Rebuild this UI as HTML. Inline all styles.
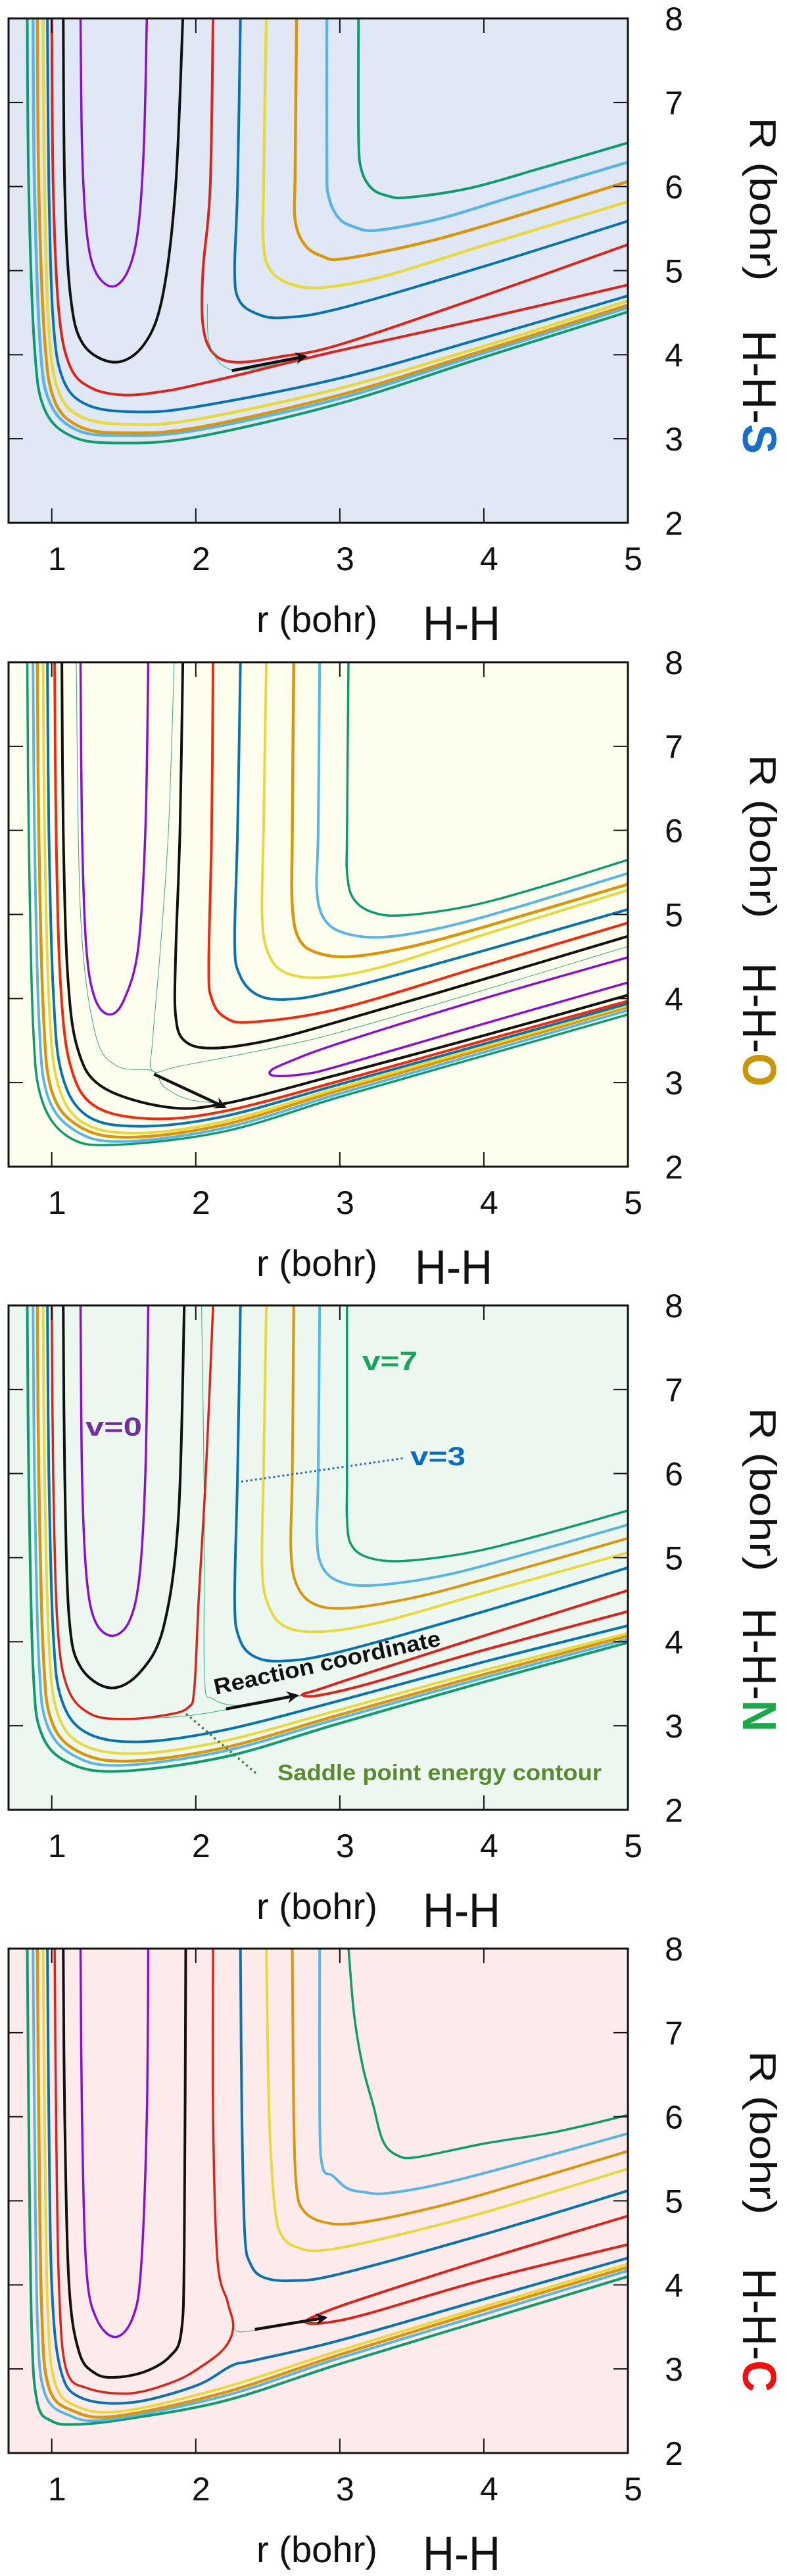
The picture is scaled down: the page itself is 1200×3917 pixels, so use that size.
<!DOCTYPE html>
<html><head><meta charset="utf-8"><style>
html,body{margin:0;padding:0;background:#fff;}
svg{display:block;font-family:"Liberation Sans",sans-serif;}
</style></head><body>
<svg id="fig" width="1200" height="3917" viewBox="0 0 1200 3917" xmlns="http://www.w3.org/2000/svg"></svg>
<script>
// ---------- DATA (r, R in bohr) ----------
const xTicks=[1,2,3,4,5];
const yTicks=[2,3,4,5,6,7,8];
const panelLabels=["S","O","N","C"];
// Panel 1 H-H-S
const p1_purple=[[1.20,8],[1.21,6.5],[1.24,5.5],[1.30,5.0],[1.42,4.81],[1.53,5.0],[1.60,5.5],[1.64,6.5],[1.66,8]];
const p1_black=[[1.08,8],[1.09,6],[1.13,4.7],[1.22,4.12],[1.44,3.91],[1.64,4.12],[1.77,4.7],[1.86,6],[1.91,8]];
const p1_redOuter=[[1.00,8],[1.01,6],[1.05,4.5],[1.13,3.85],[1.28,3.6],[1.51,3.52],[1.8,3.57],[2.05,3.66],[2.3,3.76],[3,4.05],[4,4.43],[5,4.83]];
const p1_redInner=[[2.12,8],[2.10,6],[2.05,5],[2.05,4.35],[2.12,4.02],[2.28,3.91],[2.6,3.98],[3,4.12],[4,4.7],[5,5.31]];
const p1_blueOuter=[[0.97,8],[0.98,6],[1.01,4.4],[1.08,3.7],[1.25,3.4],[1.58,3.32],[2,3.38],[3,3.72],[4,4.2],[5,4.70]];
const p1_blueInner=[[2.31,8],[2.29,6],[2.27,5],[2.30,4.65],[2.42,4.49],[2.6,4.44],[3,4.55],[4,5.05],[5,5.59]];
const p1_yellowOuter=[[0.94,8],[0.95,6],[0.98,4.3],[1.05,3.55],[1.22,3.25],[1.55,3.17],[2,3.23],[3,3.6],[4,4.1],[5,4.64]];
const p1_yellowInner=[[2.49,8],[2.47,6],[2.47,5.3],[2.52,5.0],[2.66,4.84],[2.88,4.80],[3.3,4.93],[4,5.3],[5,5.82]];
const p1_orangeOuter=[[0.90,8],[0.91,6],[0.95,4.2],[1.02,3.45],[1.2,3.14],[1.5,3.07],[2,3.13],[3,3.52],[4,4.05],[5,4.59]];
const p1_orangeInner=[[2.70,8],[2.69,6.2],[2.69,5.6],[2.76,5.3],[2.88,5.17],[3.02,5.14],[3.5,5.3],[4,5.53],[5,6.06]];
const p1_lbOuter=[[0.87,8],[0.88,6],[0.92,4.1],[0.99,3.42],[1.18,3.1],[1.5,3.04],[2,3.1],[3,3.48],[4,4.02],[5,4.56]];
const p1_lbInner=[[2.91,8],[2.91,6.3],[2.92,5.9],[2.99,5.63],[3.1,5.52],[3.26,5.48],[3.7,5.62],[4.2,5.88],[5,6.29]];
const p1_greenOuter=[[0.83,8],[0.84,6],[0.88,4.1],[0.95,3.35],[1.15,3.02],[1.48,2.95],[2,3.02],[3,3.42],[4,3.97],[5,4.51]];
const p1_greenInner=[[3.13,8],[3.13,6.6],[3.15,6.2],[3.22,5.98],[3.33,5.89],[3.47,5.87],[3.9,5.98],[4.4,6.22],[5,6.52]];
const p1_saddle=[[2.08,4.6],[2.1,4.1],[2.25,3.82],[2.6,3.9]];
const p1_arrow=[[2.25,3.81],[2.76,3.98]];
// Panel 2 H-H-O
const p2_purple=[[1.20,8],[1.21,6],[1.24,4.6],[1.30,4.0],[1.40,3.81],[1.50,3.98],[1.60,4.6],[1.65,6],[1.67,8]];
const p2_purpleLoop=[[5,4.49],[4,4.0],[3,3.47],[2.65,3.25],[2.52,3.14],[2.55,3.08],[2.75,3.1],[3,3.2],[4,3.7],[5,4.19]];
const p2_blackOuter=[[1.07,8],[1.08,6],[1.11,4.3],[1.18,3.4],[1.35,2.95],[1.79,2.71],[2.2,2.75],[3,3.1],[4,3.56],[5,4.04]];
const p2_blackInner=[[1.91,8],[1.89,6],[1.86,4.5],[1.86,3.8],[1.92,3.5],[2.11,3.41],[2.5,3.5],[3,3.73],[4,4.23],[5,4.74]];
const p2_redOuter=[[1.02,8],[1.03,6],[1.06,4.2],[1.13,3.2],[1.3,2.72],[1.69,2.57],[2.2,2.66],[3,3.02],[4,3.5],[5,3.97]];
const p2_redInner=[[2.12,8],[2.11,6],[2.09,4.4],[2.11,4.0],[2.2,3.78],[2.39,3.72],[3,3.88],[4,4.39],[5,4.90]];
const p2_blueOuter=[[0.97,8],[0.98,6],[1.01,4.1],[1.07,3.1],[1.25,2.6],[1.62,2.48],[2.2,2.6],[3,2.98],[4,3.46],[5,3.94]];
const p2_blueInner=[[2.31,8],[2.29,6],[2.27,4.7],[2.30,4.3],[2.42,4.05],[2.63,3.99],[3,4.1],[4,4.57],[5,5.06]];
const p2_yellowOuter=[[0.94,8],[0.95,6],[0.98,4.0],[1.04,3.0],[1.22,2.52],[1.6,2.40],[2.2,2.54],[3,2.94],[4,3.43],[5,3.92]];
const p2_yellowInner=[[2.49,8],[2.47,6],[2.46,5.0],[2.50,4.55],[2.62,4.31],[2.88,4.25],[3.3,4.38],[4,4.76],[5,5.29]];
const p2_orangeOuter=[[0.90,8],[0.91,6],[0.94,3.9],[1.0,2.9],[1.2,2.47],[1.55,2.35],[2.2,2.5],[3,2.91],[4,3.4],[5,3.90]];
const p2_orangeInner=[[2.68,8],[2.67,6],[2.67,5.1],[2.72,4.7],[2.85,4.54],[3.09,4.50],[3.5,4.62],[4,4.85],[5,5.36]];
const p2_lbOuter=[[0.87,8],[0.88,6],[0.91,3.8],[0.97,2.85],[1.17,2.42],[1.5,2.30],[2.2,2.46],[3,2.87],[4,3.36],[5,3.86]];
const p2_lbInner=[[2.86,8],[2.85,6],[2.84,5.3],[2.89,4.95],[3.03,4.78],[3.30,4.73],[3.7,4.84],[4.2,5.07],[5,5.49]];
const p2_greenOuter=[[0.83,8],[0.84,6],[0.87,3.7],[0.93,2.8],[1.12,2.35],[1.44,2.26],[2.2,2.42],[3,2.83],[4,3.32],[5,3.81]];
const p2_greenInner=[[3.06,8],[3.05,6],[3.05,5.5],[3.09,5.2],[3.22,5.03],[3.44,4.99],[3.9,5.1],[4.4,5.33],[5,5.65]];
const p2_saddleA=[[1.85,8],[1.81,6],[1.75,4.5],[1.70,3.5],[1.70,3.14],[1.9,3.2],[2.5,3.4],[3,3.6],[4,4.1],[5,4.62]];
const p2_saddleB=[[1.17,8],[1.2,5],[1.3,3.6],[1.45,3.2],[1.70,3.14],[1.78,2.95],[1.95,2.8],[2.2,2.75]];
const p2_arrow=[[1.71,3.10],[2.20,2.71]];
// Panel 3 H-H-N
const p3_purple=[[1.20,8],[1.21,6],[1.24,4.8],[1.30,4.25],[1.42,4.07],[1.54,4.25],[1.61,4.8],[1.65,6],[1.67,8]];
const p3_black=[[1.08,8],[1.09,6],[1.12,4.3],[1.2,3.7],[1.41,3.45],[1.62,3.65],[1.78,4.2],[1.88,5.5],[1.92,8]];
const p3_redU=[[1.00,8],[1.01,6],[1.04,4.2],[1.11,3.45],[1.27,3.14],[1.51,3.08],[1.8,3.13],[1.95,3.22],[1.99,3.45],[2.02,4.5],[2.07,6],[2.12,8]];
const p3_redLoop=[[5,4.61],[4,4.07],[3.2,3.63],[2.85,3.43],[2.74,3.37],[2.85,3.36],[3.2,3.5],[4,3.9],[5,4.36]];
const p3_blueOuter=[[0.97,8],[0.98,6],[1.01,4.1],[1.07,3.3],[1.25,2.91],[1.62,2.81],[2.2,2.95],[3,3.3],[4,3.76],[5,4.19]];
const p3_blueInner=[[2.31,8],[2.29,6],[2.27,4.5],[2.30,4.05],[2.40,3.83],[2.60,3.77],[3,3.88],[4,4.36],[5,4.88]];
const p3_yellowOuter=[[0.94,8],[0.95,6],[0.98,4.0],[1.04,3.15],[1.22,2.77],[1.6,2.67],[2.2,2.82],[3,3.19],[4,3.66],[5,4.10]];
const p3_yellowInner=[[2.49,8],[2.47,6],[2.46,4.9],[2.50,4.45],[2.62,4.18],[2.88,4.12],[3.3,4.24],[4,4.58],[5,5.06]];
const p3_orangeOuter=[[0.90,8],[0.91,6],[0.94,3.9],[1.0,3.05],[1.2,2.68],[1.55,2.58],[2.2,2.74],[3,3.13],[4,3.61],[5,4.07]];
const p3_orangeInner=[[2.68,8],[2.67,6],[2.66,5.1],[2.70,4.68],[2.82,4.45],[3.05,4.40],[3.5,4.52],[4,4.74],[5,5.23]];
const p3_lbOuter=[[0.87,8],[0.88,6],[0.91,3.8],[0.97,3.0],[1.17,2.63],[1.5,2.53],[2.2,2.7],[3,3.09],[4,3.57],[5,4.03]];
const p3_lbInner=[[2.86,8],[2.85,6],[2.84,5.3],[2.87,4.92],[2.99,4.72],[3.23,4.67],[3.7,4.78],[4.2,5.0],[5,5.39]];
const p3_greenOuter=[[0.83,8],[0.84,6],[0.87,3.7],[0.93,2.9],[1.13,2.55],[1.48,2.46],[2.2,2.63],[3,3.03],[4,3.52],[5,3.99]];
const p3_greenInner=[[3.05,8],[3.05,6],[3.05,5.45],[3.08,5.15],[3.2,5.0],[3.44,4.96],[3.9,5.06],[4.4,5.27],[5,5.56]];
const p3_saddle=[[2.04,8],[2.06,5.5],[2.06,3.6],[2.12,3.32],[2.35,3.24],[2.74,3.37]];
const p3_saddleB=[[1.5,3.07],[1.95,3.12],[2.3,3.22],[2.74,3.36]];
const p3_arrow=[[2.21,3.20],[2.70,3.36]];
// Panel 4 H-H-C
const p4_purple=[[1.20,8],[1.21,6],[1.24,4.2],[1.31,3.6],[1.44,3.38],[1.56,3.6],[1.62,4.2],[1.66,6],[1.67,8]];
const p4_black=[[1.08,8],[1.09,6],[1.12,4],[1.19,3.2],[1.3,2.95],[1.44,2.90],[1.65,2.97],[1.82,3.15],[1.9,3.45],[1.92,4.5],[1.93,8]];
const p4_redU=[[1.02,8],[1.03,6],[1.05,4],[1.1,3.0],[1.25,2.77],[1.55,2.71],[1.85,2.85],[2.04,3.03],[2.2,3.25],[2.26,3.5],[2.22,3.8],[2.15,4.3],[2.12,6],[2.12,8]];
const p4_redLoop=[[5,4.82],[4,4.3],[3.2,3.86],[2.9,3.68],[2.76,3.56],[2.9,3.55],[3.2,3.66],[4,4.06],[5,4.48]];
const p4_blueOuter=[[0.97,8],[0.98,6],[1.0,4],[1.06,3.0],[1.2,2.66],[1.55,2.60],[2.0,2.8],[2.25,3.04],[2.4,3.1],[3,3.34],[4,3.83],[5,4.32]];
const p4_blueInner=[[2.31,8],[2.32,6],[2.34,4.6],[2.38,4.25],[2.47,4.09],[2.67,4.05],[3,4.13],[4,4.6],[5,5.12]];
const p4_yellowOuter=[[0.94,8],[0.95,6],[0.97,3.8],[1.02,2.85],[1.18,2.55],[1.5,2.50],[2.2,2.78],[3,3.22],[4,3.74],[5,4.25]];
const p4_yellowInner=[[2.49,8],[2.51,6],[2.55,4.9],[2.60,4.58],[2.70,4.45],[2.88,4.41],[3.3,4.55],[4,4.86],[5,5.38]];
const p4_orangeOuter=[[0.90,8],[0.91,6],[0.93,3.7],[0.98,2.78],[1.15,2.5],[1.45,2.44],[2.2,2.72],[3,3.17],[4,3.7],[5,4.21]];
const p4_orangeInner=[[2.67,8],[2.68,6],[2.70,5.15],[2.75,4.88],[2.88,4.75],[3.09,4.73],[3.5,4.86],[4,5.08],[5,5.59]];
const p4_lbOuter=[[0.87,8],[0.88,6],[0.9,3.6],[0.95,2.72],[1.12,2.45],[1.4,2.40],[2.2,2.68],[3,3.13],[4,3.65],[5,4.17]];
const p4_lbInner=[[2.86,8],[2.86,6],[2.88,5.4],[2.95,5.3],[3.05,5.15],[3.18,5.1],[3.33,5.09],[3.7,5.2],[4.2,5.42],[5,5.80]];
const p4_greenOuter=[[0.83,8],[0.84,6],[0.86,3.5],[0.9,2.6],[1.0,2.38],[1.16,2.34],[1.5,2.4],[2.2,2.62],[3,3.06],[4,3.58],[5,4.10]];
const p4_greenInner=[[3.06,8],[3.10,7.2],[3.16,6.59],[3.23,6.15],[3.30,5.71],[3.40,5.54],[3.54,5.52],[4,5.68],[4.5,5.82],[5,6.02]];
const p4_saddle=[[2.26,3.5],[2.3,3.44],[2.45,3.47]];
const p4_arrow=[[2.41,3.47],[2.90,3.61]];

// ---------- LAYOUT ----------
const NS="http://www.w3.org/2000/svg";
const svg=document.getElementById('fig');
const L=13,Rt=955,H=767;
const tops=[28,1007,1985,2963];
const bgs=["#e1e8f5","#fefeee","#ecf7f0","#fdeaea"];
const labelCols=["#1a6fc4","#c8960a","#1aa84a","#ee1111"];
const rOff=[275,265,280,280], hOff=[568,551,554,580];
const C={purple:"#8a10d0",black:"#111111",red:"#d8261e",blue:"#0b72b0",yellow:"#e8d840",orange:"#d9960c",lb:"#5ab4e4",green:"#119a70",thin:"#3aa878"};
function xs(r){return L+(r-0.7)*(Rt-L)/4.3;}
function ysF(top){return R=>top+(8-R)*H/6;}
function el(tag,attrs,parent){const e=document.createElementNS(NS,tag);for(const k in attrs)e.setAttribute(k,attrs[k]);(parent||svg).appendChild(e);return e;}
function pathD(pts,ys){
  const p=pts.map(q=>[xs(q[0]),ys(q[1])]);
  let d="M"+p[0][0].toFixed(1)+","+p[0][1].toFixed(1);
  for(let i=0;i<p.length-1;i++){
    const p0=p[i-1]||p[i],p1=p[i],p2=p[i+1],p3=p[i+2]||p2;
    const c1=[p1[0]+(p2[0]-p0[0])/6,p1[1]+(p2[1]-p0[1])/6];
    const c2=[p2[0]-(p3[0]-p1[0])/6,p2[1]-(p3[1]-p1[1])/6];
    d+=" C"+c1[0].toFixed(1)+","+c1[1].toFixed(1)+" "+c2[0].toFixed(1)+","+c2[1].toFixed(1)+" "+p2[0].toFixed(1)+","+p2[1].toFixed(1);
  }
  return d;
}
const panels=[
 [[p1_greenOuter,C.green,4],[p1_greenInner,C.green,4],[p1_lbOuter,C.lb,4.5],[p1_lbInner,C.lb,4.5],[p1_orangeOuter,C.orange,4.5],[p1_orangeInner,C.orange,4.5],[p1_yellowOuter,C.yellow,4.5],[p1_yellowInner,C.yellow,4.5],[p1_blueOuter,C.blue,4],[p1_blueInner,C.blue,4],[p1_redOuter,C.red,4],[p1_redInner,C.red,4],[p1_black,C.black,4],[p1_purple,C.purple,3.5],[p1_saddle,C.thin,1]],
 [[p2_saddleA,C.thin,1],[p2_saddleB,C.thin,1],[p2_greenOuter,C.green,3.5],[p2_greenInner,C.green,3.5],[p2_lbOuter,C.lb,4],[p2_lbInner,C.lb,4],[p2_orangeOuter,C.orange,4.5],[p2_orangeInner,C.orange,4.5],[p2_yellowOuter,C.yellow,4],[p2_yellowInner,C.yellow,4],[p2_blueOuter,C.blue,4],[p2_blueInner,C.blue,4],[p2_redOuter,"#ee2a10",4],[p2_redInner,"#ee2a10",4],[p2_blackOuter,C.black,4],[p2_blackInner,C.black,4],[p2_purple,C.purple,3.5],[p2_purpleLoop,C.purple,3.5]],
 [[p3_saddle,C.thin,1],[p3_saddleB,C.thin,1],[p3_greenOuter,C.green,4],[p3_greenInner,C.green,3.5],[p3_lbOuter,C.lb,4],[p3_lbInner,C.lb,4],[p3_orangeOuter,C.orange,4.5],[p3_orangeInner,C.orange,4],[p3_yellowOuter,C.yellow,4],[p3_yellowInner,C.yellow,4],[p3_blueOuter,C.blue,4],[p3_blueInner,C.blue,4],[p3_redU,C.red,3.5],[p3_redLoop,C.red,4],[p3_black,C.black,4],[p3_purple,C.purple,3.5]],
 [[p4_saddle,C.thin,1],[p4_greenOuter,C.green,4],[p4_greenInner,C.green,3.5],[p4_lbOuter,C.lb,4],[p4_lbInner,C.lb,4],[p4_orangeOuter,C.orange,4.5],[p4_orangeInner,C.orange,4],[p4_yellowOuter,C.yellow,4],[p4_yellowInner,C.yellow,4],[p4_blueOuter,C.blue,4],[p4_blueInner,C.blue,4],[p4_redU,C.red,3.5],[p4_redLoop,C.red,4],[p4_black,C.black,4],[p4_purple,C.purple,3.5]]
];
const arrows=[p1_arrow,p2_arrow,p3_arrow,p4_arrow];
const curveNames=["green-contour","green-contour","light-blue-contour","light-blue-contour","orange-contour","orange-contour","yellow-contour","yellow-contour","blue-contour","blue-contour","red-contour","red-contour","black-contour","purple-contour"];

const defs=el('defs',{});
const mk=el('marker',{id:'ah',viewBox:'0 0 10 10',refX:'8',refY:'5',markerWidth:'4',markerHeight:'4',orient:'auto',markerUnits:'strokeWidth'},defs);
el('path',{d:'M0,0 L10,5 L0,10 L3,5 Z',fill:'#111'},mk);

tops.forEach((top,pi)=>{
  const ys=ysF(top);
  const g=el('g',{});
  
  
  const cp=el('clipPath',{id:'cp'+pi},defs);
  el('rect',{x:L,y:top,width:Rt-L,height:H},cp);
  const bg=el('rect',{x:L,y:top,width:Rt-L,height:H,fill:bgs[pi]},g);
  
  
  const cg=el('g',{'clip-path':'url(#cp'+pi+')'},g);
  panels[pi].forEach(([pts,col,w],ci)=>{
    const p=el('path',{d:pathD(pts,ys),fill:'none',stroke:col,'stroke-width':w,'stroke-linejoin':'round','stroke-linecap':'round'},cg);
    
    
  });
  const a=arrows[pi];
  const ar=el('line',{x1:xs(a[0][0]),y1:ys(a[0][1]),x2:xs(a[1][0]),y2:ys(a[1][1]),stroke:'#111','stroke-width':4.5,'marker-end':'url(#ah)'},g);
  
  
  // ticks
  xTicks.forEach(t=>{
    if(t<5){
      el('line',{x1:xs(t),x2:xs(t),y1:top+H,y2:top+H-22,stroke:'#111','stroke-width':2},g);
      el('line',{x1:xs(t),x2:xs(t),y1:top,y2:top+22,stroke:'#111','stroke-width':2},g);
    }
    const tx=el('text',{x:xs(t)+8,y:top+H+72,'font-size':50,'text-anchor':'middle',fill:'#111'},g);
    tx.textContent=t;
    
    
  });
  yTicks.forEach(t=>{
    if(t>2&&t<8){
      el('line',{x1:L,x2:L+22,y1:ys(t),y2:ys(t),stroke:'#111','stroke-width':2},g);
      el('line',{x1:Rt,x2:Rt-22,y1:ys(t),y2:ys(t),stroke:'#111','stroke-width':2},g);
    }
    const ty=el('text',{x:1025,y:ys(t)+18,'font-size':50,'text-anchor':'middle',fill:'#111'},g);
    ty.textContent=t;
    
    
  });
  const fr=el('rect',{x:L,y:top,width:Rt-L,height:H,fill:'none',stroke:'#111','stroke-width':3},g);
  
  
  // x title
  const xt=el('text',{x:390,y:top+H+166,'font-size':56,textLength:184,lengthAdjust:'spacingAndGlyphs',fill:'#111'},g);
  xt.textContent='r (bohr)';
  
  
  const xh=el('text',{x:pi==1?631:643,y:top+H+178,'font-size':73,textLength:118,lengthAdjust:'spacingAndGlyphs',fill:'#111'},g);
  xh.textContent='H-H';
  
  
  // y title rotated
  const yt=el('text',{x:0,y:0,transform:'translate(1141,'+(top+rOff[pi])+') rotate(90)','font-size':57,'text-anchor':'middle',textLength:249,lengthAdjust:'spacingAndGlyphs',fill:'#111'},g);
  yt.textContent='R (bohr)';
  
  
  const yh=el('text',{x:0,y:0,transform:'translate(1130,'+(top+hOff[pi])+') rotate(90)','font-size':72,'text-anchor':'middle',textLength:188,lengthAdjust:'spacingAndGlyphs',fill:'#111'},g);
  
  
  const t1=el('tspan',{},yh); t1.textContent='H-H-';
  const t2=el('tspan',{fill:labelCols[pi],'font-weight':'bold'},yh); t2.textContent=panelLabels[pi];
});

// annotations panel 3
function ann(txt,attrs,name){const t=el('text',attrs);t.textContent=txt;return t;}
ann('v=7',{x:551,y:2083,'font-size':40,'font-weight':'bold',fill:'#1aa35a',textLength:84,lengthAdjust:'spacingAndGlyphs'},'label-v7');
ann('v=0',{x:130,y:2183,'font-size':40,'font-weight':'bold',fill:'#7030a0',textLength:86,lengthAdjust:'spacingAndGlyphs'},'label-v0');
ann('v=3',{x:624,y:2228,'font-size':40,'font-weight':'bold',fill:'#0a6cbc',textLength:84,lengthAdjust:'spacingAndGlyphs'},'label-v3');
const d1=el('line',{x1:367,y1:2253,x2:616,y2:2217,stroke:'#2a6cc0','stroke-width':3,'stroke-dasharray':'3,4'});

const d2=el('line',{x1:283,y1:2606,x2:390,y2:2697,stroke:'#4a7a30','stroke-width':3.5,'stroke-dasharray':'3,5'});

ann('Reaction coordinate',{x:0,y:0,transform:'translate(328,2577) rotate(-12.3)','font-size':34,'font-weight':'bold',fill:'#111',textLength:352,lengthAdjust:'spacingAndGlyphs'},'reaction-coordinate-label');
ann('Saddle point energy contour',{x:422,y:2707,'font-size':34,'font-weight':'bold',fill:'#5a8a30',textLength:493,lengthAdjust:'spacingAndGlyphs'},'saddle-contour-label');
</script>
</body></html>
